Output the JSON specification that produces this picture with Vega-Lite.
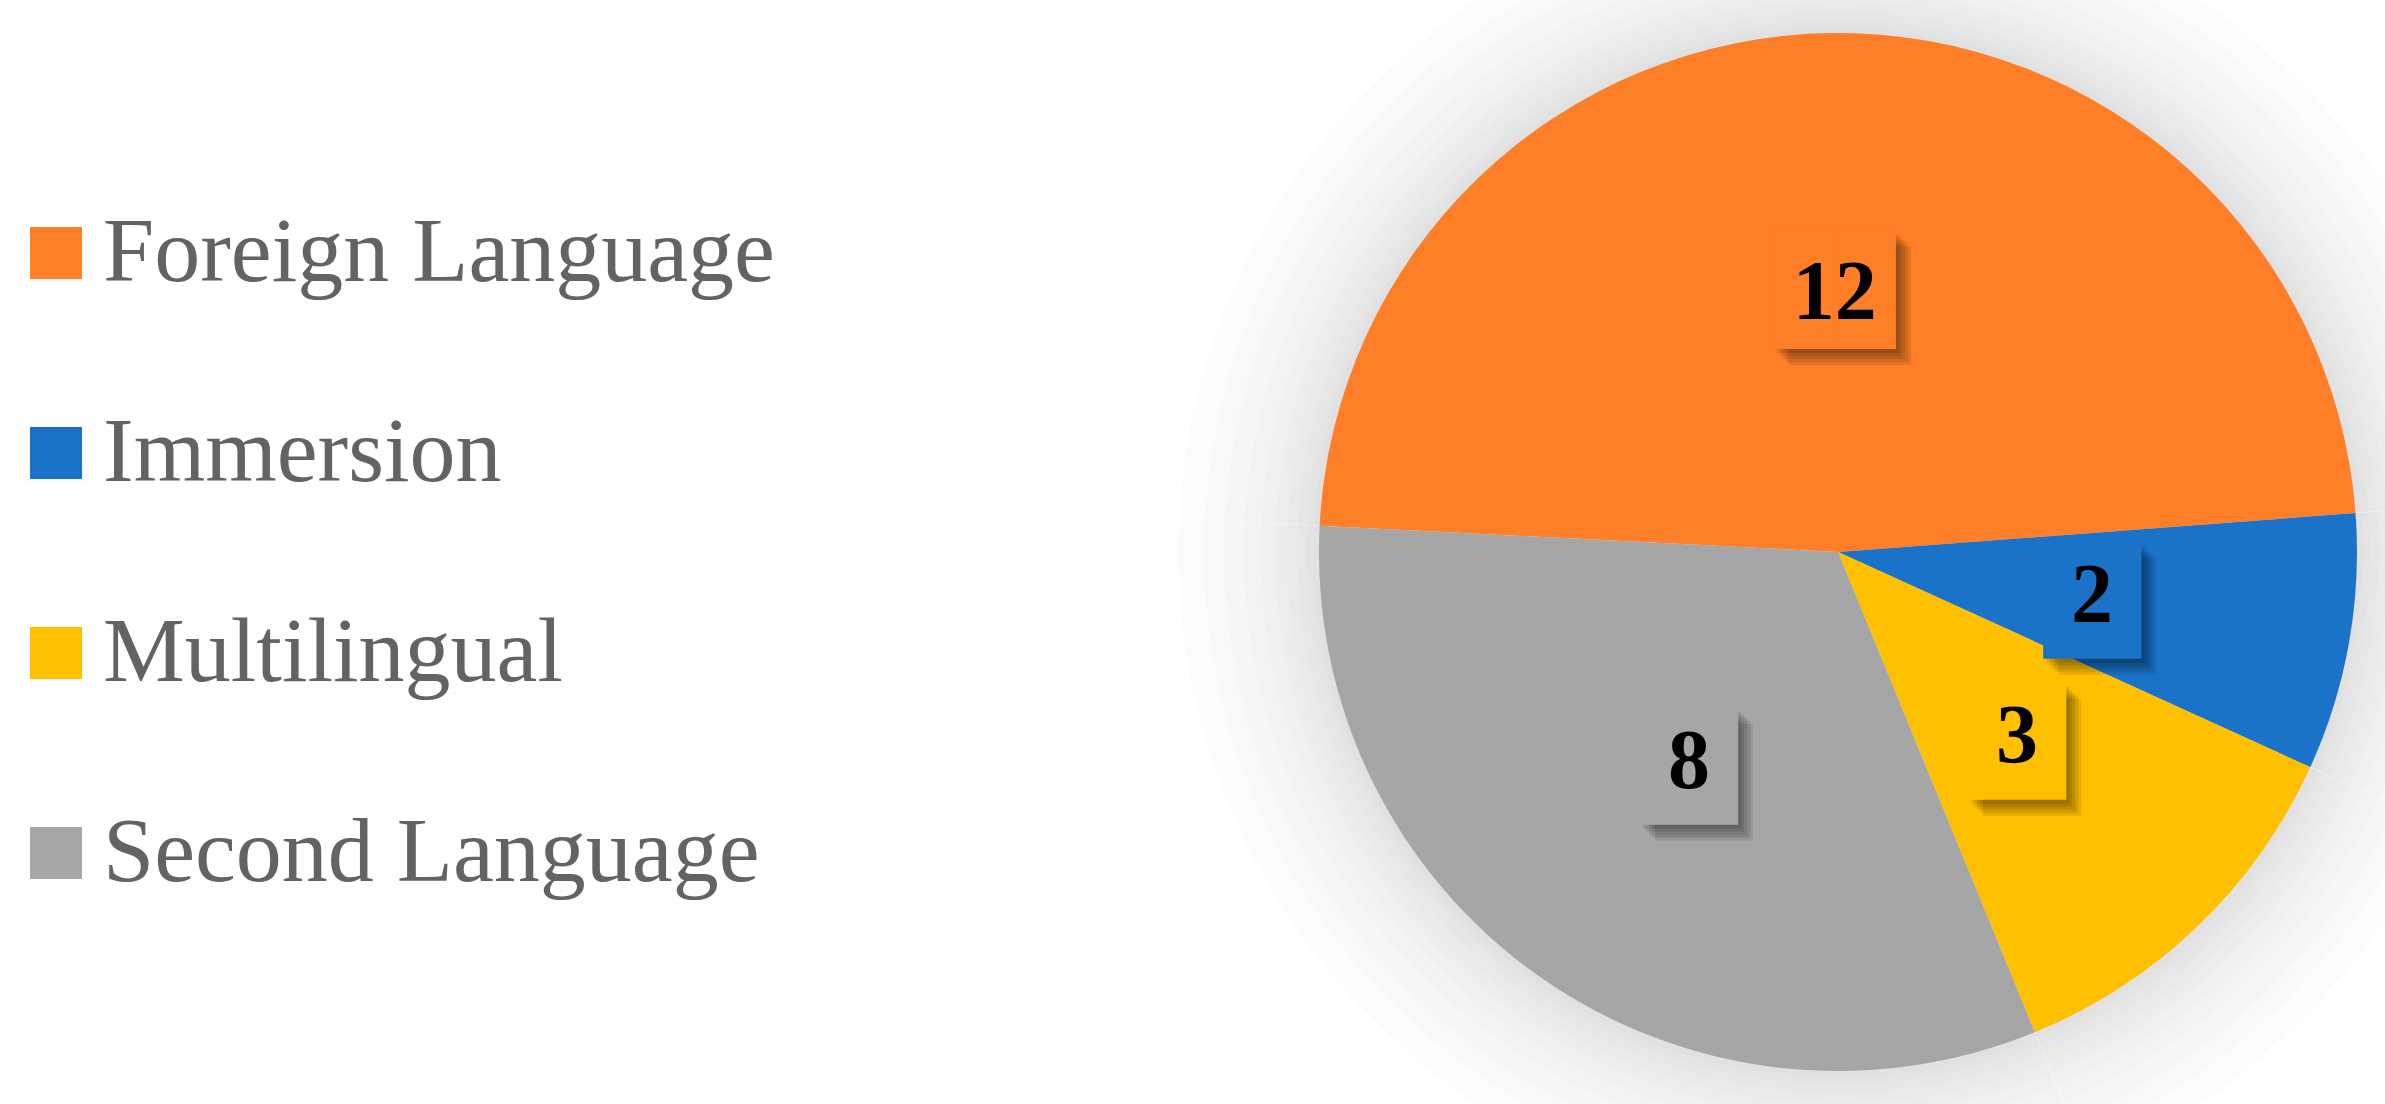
{
  "$schema": "https://vega.github.io/schema/vega-lite/v6.json",
  "width": 1038,
  "height": 1038,
  "autosize": "none",
  "padding": {"left": 1319, "top": 33, "right": 28, "bottom": 33},
  "background": "white",
  "config": {"view": {"stroke": null}},
  "data": {
    "values": [
      {"category": "Foreign Language", "value": 12, "idx": 1},
      {"category": "Immersion", "value": 2, "idx": 2},
      {"category": "Multilingual", "value": 3, "idx": 3},
      {"category": "Second Language", "value": 8, "idx": 4}
    ]
  },
  "transform": [
    {"calculate": "datum.value >= 10 ? '██' : ' |▅'", "as": "box"}
  ],
  "encoding": {
    "theta": {"field": "value", "type": "quantitative", "stack": true, "scale": {"range": [4.763, 11.0462]}},
    "order": {"field": "idx", "type": "quantitative"}
  },
  "layer": [
    {"mark": {"type": "arc", "outerRadius": 660, "color": "#000000", "opacity": 0.012, "strokeWidth": 0}},
    {"mark": {"type": "arc", "outerRadius": 634, "color": "#000000", "opacity": 0.012, "strokeWidth": 0}},
    {"mark": {"type": "arc", "outerRadius": 614, "color": "#000000", "opacity": 0.012, "strokeWidth": 0}},
    {"mark": {"type": "arc", "outerRadius": 594, "color": "#000000", "opacity": 0.012, "strokeWidth": 0}},
    {"mark": {"type": "arc", "outerRadius": 577, "color": "#000000", "opacity": 0.012, "strokeWidth": 0}},
    {"mark": {"type": "arc", "outerRadius": 563, "color": "#000000", "opacity": 0.012, "strokeWidth": 0}},
    {"mark": {"type": "arc", "outerRadius": 551, "color": "#000000", "opacity": 0.012, "strokeWidth": 0}},
    {"mark": {"type": "arc", "outerRadius": 541, "color": "#000000", "opacity": 0.012, "strokeWidth": 0}},
    {"mark": {"type": "arc", "outerRadius": 532, "color": "#000000", "opacity": 0.012, "strokeWidth": 0}},
    {"mark": {"type": "arc", "outerRadius": 525, "color": "#000000", "opacity": 0.012, "strokeWidth": 0}},
    {
      "mark": {"type": "arc", "outerRadius": 519, "strokeWidth": 0},
      "encoding": {
        "color": {
          "field": "category",
          "type": "nominal",
          "scale": {
            "domain": ["Foreign Language", "Immersion", "Multilingual", "Second Language"],
            "range": ["#FE7F27", "#1A73C9", "#FFC000", "#A6A6A6"]
          },
          "legend": {
            "orient": "none",
            "legendX": -1309,
            "legendY": 174,
            "title": null,
            "symbolType": "square",
            "symbolSize": 2704,
            "symbolStrokeWidth": 0,
            "labelFont": "Liberation Serif",
            "labelFontSize": 92,
            "labelColor": "#636363",
            "labelOffset": 1,
            "labelLimit": 2000,
            "rowPadding": 108,
            "padding": 0
          }
        }
      }
    },
    {"mark": {"type": "text", "radius": 258, "font": "DejaVu Sans Mono", "lineBreak": "|", "lineHeight": -25, "baseline": "middle", "align": "center", "dx": 15, "dy": 16, "color": "#000000", "opacity": 0.09},
     "encoding": {"text": {"field": "box"}, "size": {"field": "value", "type": "quantitative", "scale": {"type": "threshold", "domain": [10], "range": [158, 100]}, "legend": null}}},
    {"mark": {"type": "text", "radius": 258, "font": "DejaVu Sans Mono", "lineBreak": "|", "lineHeight": -25, "baseline": "middle", "align": "center", "dx": 12, "dy": 13, "color": "#000000", "opacity": 0.09},
     "encoding": {"text": {"field": "box"}, "size": {"field": "value", "type": "quantitative", "scale": {"type": "threshold", "domain": [10], "range": [158, 100]}, "legend": null}}},
    {"mark": {"type": "text", "radius": 258, "font": "DejaVu Sans Mono", "lineBreak": "|", "lineHeight": -25, "baseline": "middle", "align": "center", "dx": 9, "dy": 10, "color": "#000000", "opacity": 0.09},
     "encoding": {"text": {"field": "box"}, "size": {"field": "value", "type": "quantitative", "scale": {"type": "threshold", "domain": [10], "range": [158, 100]}, "legend": null}}},
    {"mark": {"type": "text", "radius": 258, "font": "DejaVu Sans Mono", "lineBreak": "|", "lineHeight": -25, "baseline": "middle", "align": "center", "dx": 6, "dy": 7, "color": "#000000", "opacity": 0.09},
     "encoding": {"text": {"field": "box"}, "size": {"field": "value", "type": "quantitative", "scale": {"type": "threshold", "domain": [10], "range": [158, 100]}, "legend": null}}},
    {"mark": {"type": "text", "radius": 258, "font": "DejaVu Sans Mono", "lineBreak": "|", "lineHeight": -25, "baseline": "middle", "align": "center", "dx": 3, "dy": 4, "color": "#000000", "opacity": 0.09},
     "encoding": {"text": {"field": "box"}, "size": {"field": "value", "type": "quantitative", "scale": {"type": "threshold", "domain": [10], "range": [158, 100]}, "legend": null}}},
    {
      "mark": {"type": "text", "radius": 258, "font": "DejaVu Sans Mono", "lineBreak": "|", "lineHeight": -25, "baseline": "middle", "align": "center"},
      "encoding": {
        "text": {"field": "box"},
        "size": {"field": "value", "type": "quantitative", "scale": {"type": "threshold", "domain": [10], "range": [158, 100]}, "legend": null},
        "color": {"field": "category", "type": "nominal", "legend": null}
      }
    },
    {
      "mark": {"type": "text", "radius": 258, "font": "Liberation Serif", "fontWeight": "bold", "fontSize": 84, "baseline": "middle", "align": "center", "color": "#000000"},
      "encoding": {"text": {"field": "value", "type": "quantitative"}}
    }
  ]
}
